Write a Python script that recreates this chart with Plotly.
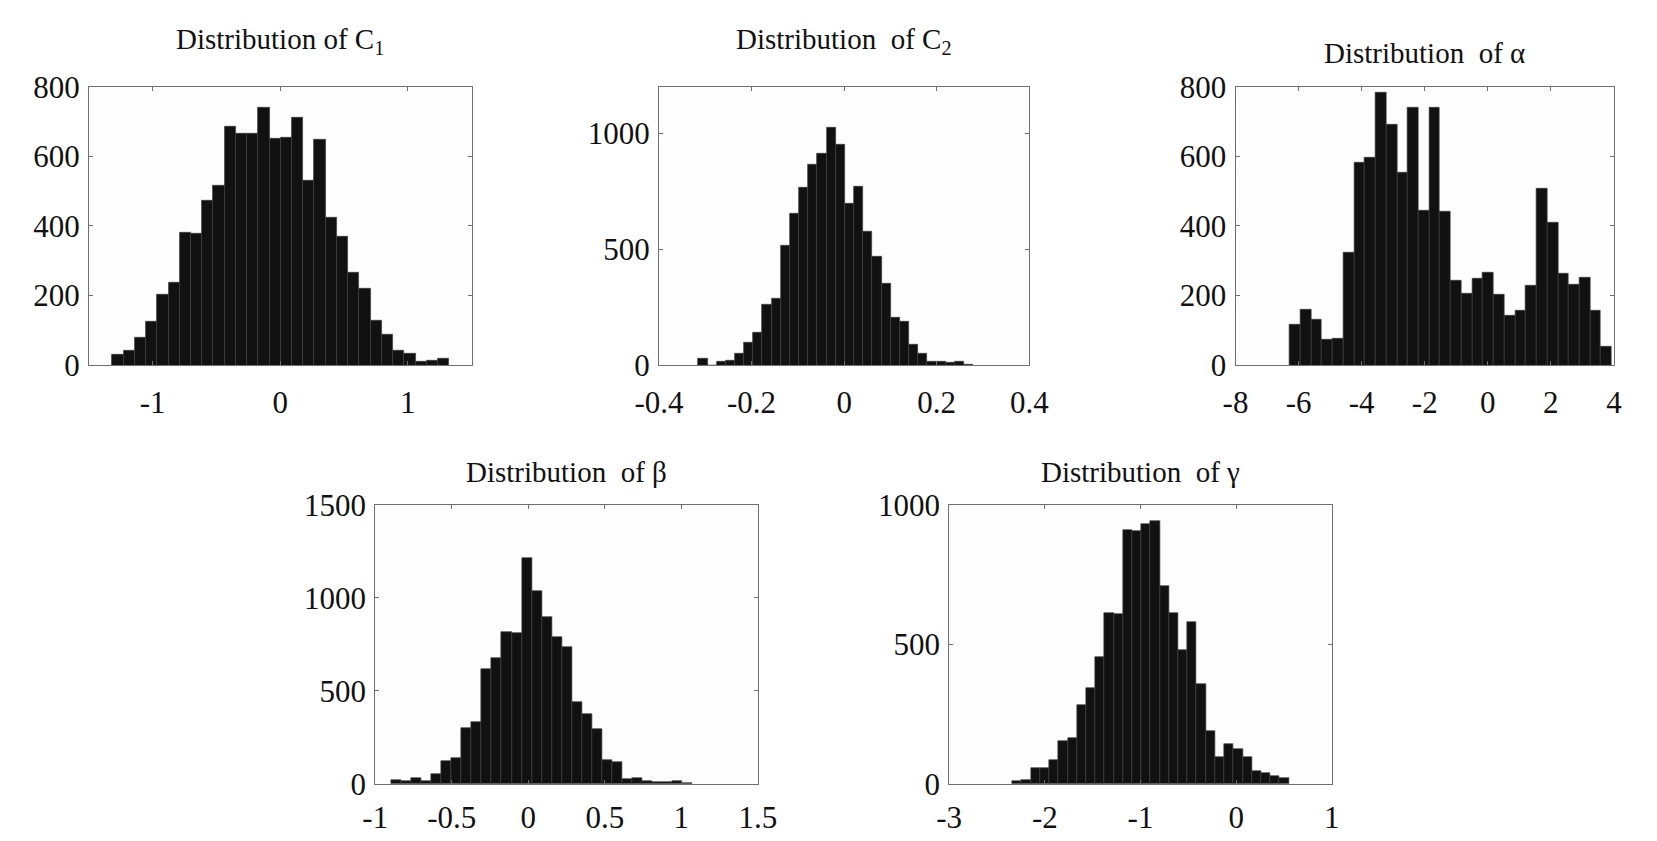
import numpy as np
import plotly.graph_objects as go

# ---------------- data ----------------
c1_start, c1_width = -1.316, 0.088
c1_counts = [30, 41, 78, 126, 202, 236, 381, 379, 472, 517, 684, 664, 666, 740, 650,
             653, 711, 529, 649, 424, 369, 266, 221, 127, 87, 41, 32, 11, 13, 18]

c2_start, c2_width = -0.315, 0.0198
c2_counts = [27, 0, 14, 21, 48, 96, 142, 261, 285, 513, 653, 763, 862, 911, 1025,
             952, 695, 768, 574, 468, 351, 206, 186, 89, 48, 17, 14, 11, 14, 4]

alpha_start, alpha_width = -6.283, 0.3404
alpha_counts = [115, 159, 130, 73, 76, 323, 581, 595, 784, 691, 552, 741, 445, 739, 442,
                242, 204, 248, 267, 203, 141, 158, 229, 506, 408, 263, 231, 250, 156, 52]

beta_start, beta_width = -0.894, 0.0655
beta_counts = [21, 12, 29, 14, 50, 120, 138, 298, 334, 619, 674, 815, 809, 1213, 1039,
               896, 791, 736, 439, 373, 292, 126, 119, 24, 29, 12, 9, 9, 15, 5]

gamma_start, gamma_width = -2.339, 0.0963
gamma_counts = [9, 14, 57, 57, 86, 154, 163, 283, 344, 453, 612, 610, 909, 907, 933,
                941, 710, 614, 480, 581, 358, 188, 97, 143, 125, 97, 47, 38, 29, 21]

titles = ["Distribution of C<sub>1</sub>",
          "Distribution\u00a0 of C<sub>2</sub>",
          "Distribution\u00a0 of \u03b1",
          "Distribution\u00a0 of \u03b2",
          "Distribution\u00a0 of \u03b3"]

x_ranges = [[-1.5, 1.5], [-0.4, 0.4], [-8, 4], [-1, 1.5], [-3, 1]]
y_ranges = [[0, 800], [0, 1200], [0, 800], [0, 1500], [0, 1000]]

x_tickvals = [[-1, 0, 1], [-0.4, -0.2, 0, 0.2, 0.4], [-8, -6, -4, -2, 0, 2, 4],
              [-1, -0.5, 0, 0.5, 1, 1.5], [-3, -2, -1, 0, 1]]
x_ticktext = [["-1", "0", "1"], ["-0.4", "-0.2", "0", "0.2", "0.4"],
              ["-8", "-6", "-4", "-2", "0", "2", "4"],
              ["-1", "-0.5", "0", "0.5", "1", "1.5"], ["-3", "-2", "-1", "0", "1"]]
y_tickvals = [[0, 200, 400, 600, 800], [0, 500, 1000], [0, 200, 400, 600, 800],
              [0, 500, 1000, 1500], [0, 500, 1000]]

# ---------------- layout (pixel boxes) ----------------
W, H = 1657, 841
boxes = [  # x0, x1, y0(top), y1(bottom)
    (65.7, 459.0, 72.7, 363.3),
    (651.7, 1032.3, 72.7, 363.3),
    (1244.3, 1633.3, 72.7, 363.3),
    (360.0, 753.3, 509.3, 800.0),
    (950.0, 1343.3, 509.3, 800.0),
]
title_y = [25, 25, 38, 475, 475]
x_standoff = [10, 10, 10, 6, 6]

series = [(c1_start, c1_width, c1_counts), (c2_start, c2_width, c2_counts),
          (alpha_start, alpha_width, alpha_counts), (beta_start, beta_width, beta_counts),
          (gamma_start, gamma_width, gamma_counts)]

FONT = "Liberation Serif, Times New Roman, serif"
fig = go.Figure()
annotations = []
for i, ((start, width, counts), box) in enumerate(zip(series, boxes)):
    n = i + 1
    xa = "x" if n == 1 else f"x{n}"
    ya = "y" if n == 1 else f"y{n}"
    centers = start + width * (np.arange(len(counts)) + 0.5)
    fig.add_trace(go.Bar(
        x=centers, y=counts, width=width, xaxis=xa, yaxis=ya,
        marker=dict(color="#111111", line=dict(color="#3c3c3c", width=0.7)),
        showlegend=False, hoverinfo="x+y"))
    x0, x1, yt, yb = box
    axis_common = dict(showgrid=False, zeroline=False, showline=True, linecolor="#707070",
                       linewidth=1, mirror="ticks", ticks="inside", ticklen=4,
                       tickcolor="#707070", tickfont=dict(family=FONT, size=31, color="#111"))
    fig.layout[f"xaxis{'' if n == 1 else n}"] = dict(
        domain=[x0 / W, x1 / W], range=x_ranges[i], anchor=ya,
        ticklabelstandoff=x_standoff[i],
        tickmode="array", tickvals=x_tickvals[i], ticktext=x_ticktext[i], **axis_common)
    fig.layout[f"yaxis{'' if n == 1 else n}"] = dict(
        domain=[1 - yb / H, 1 - yt / H], range=y_ranges[i], anchor=xa,
        ticklabelstandoff=2,
        tickmode="array", tickvals=y_tickvals[i],
        ticktext=[str(v) for v in y_tickvals[i]], **axis_common)
    annotations.append(dict(
        text=titles[i], xref="paper", yref="paper", x=(x0 + x1) / 2 / W, y=1 - title_y[i] / H,
        xanchor="center", yanchor="middle", showarrow=False,
        font=dict(family=FONT, size=29, color="#111")))

fig.update_layout(
    width=W, height=H, margin=dict(l=0, r=0, t=0, b=0),
    paper_bgcolor="white", plot_bgcolor="#fdfdfd", bargap=0,
    annotations=annotations, showlegend=False)

fig.write_html("out.html", config={"displayModeBar": False})
